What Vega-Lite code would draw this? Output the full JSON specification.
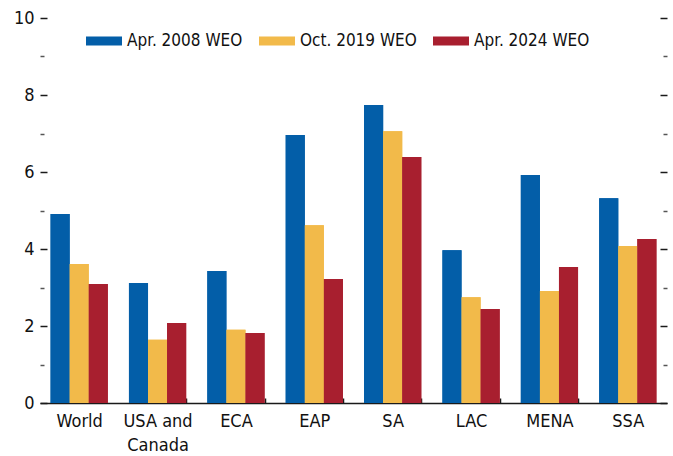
{
  "$schema": "https://vega.github.io/schema/vega-lite/v6.json",
  "width": 627,
  "height": 385,
  "autosize": {"type": "none"},
  "padding": {"left": 40, "top": 18, "right": 6, "bottom": 53},
  "config": {
    "view": {"stroke": null},
    "font": "DejaVu Sans Condensed, Liberation Sans, sans-serif",
    "axis": {"grid": false, "labelFont": "DejaVu Sans Condensed, Liberation Sans, sans-serif", "labelColor": "#111111", "labelFontSize": 18}
  },
  "data": {
    "values": [
      {"region": "World", "vintage": "Apr. 2008 WEO", "value": 4.91},
      {"region": "World", "vintage": "Oct. 2019 WEO", "value": 3.61},
      {"region": "World", "vintage": "Apr. 2024 WEO", "value": 3.09},
      {"region": "USA and Canada", "vintage": "Apr. 2008 WEO", "value": 3.12},
      {"region": "USA and Canada", "vintage": "Oct. 2019 WEO", "value": 1.64},
      {"region": "USA and Canada", "vintage": "Apr. 2024 WEO", "value": 2.08},
      {"region": "ECA", "vintage": "Apr. 2008 WEO", "value": 3.43},
      {"region": "ECA", "vintage": "Oct. 2019 WEO", "value": 1.9},
      {"region": "ECA", "vintage": "Apr. 2024 WEO", "value": 1.82},
      {"region": "EAP", "vintage": "Apr. 2008 WEO", "value": 6.96},
      {"region": "EAP", "vintage": "Oct. 2019 WEO", "value": 4.62},
      {"region": "EAP", "vintage": "Apr. 2024 WEO", "value": 3.22},
      {"region": "SA", "vintage": "Apr. 2008 WEO", "value": 7.74},
      {"region": "SA", "vintage": "Oct. 2019 WEO", "value": 7.06},
      {"region": "SA", "vintage": "Apr. 2024 WEO", "value": 6.39},
      {"region": "LAC", "vintage": "Apr. 2008 WEO", "value": 3.97},
      {"region": "LAC", "vintage": "Oct. 2019 WEO", "value": 2.75},
      {"region": "LAC", "vintage": "Apr. 2024 WEO", "value": 2.44},
      {"region": "MENA", "vintage": "Apr. 2008 WEO", "value": 5.92},
      {"region": "MENA", "vintage": "Oct. 2019 WEO", "value": 2.91},
      {"region": "MENA", "vintage": "Apr. 2024 WEO", "value": 3.53},
      {"region": "SSA", "vintage": "Apr. 2008 WEO", "value": 5.32},
      {"region": "SSA", "vintage": "Oct. 2019 WEO", "value": 4.08},
      {"region": "SSA", "vintage": "Apr. 2024 WEO", "value": 4.26}
    ]
  },
  "encoding": {
    "x": {
      "field": "region",
      "type": "nominal",
      "sort": ["World", "USA and Canada", "ECA", "EAP", "SA", "LAC", "MENA", "SSA"],
      "scale": {"paddingInner": 0.27, "paddingOuter": 0.135},
      "axis": {
        "title": null,
        "labelAngle": 0,
        "tickBand": "extent",
        "tickSize": -5,
        "tickWidth": 1.5,
        "tickColor": "#1a1a1a",
        "tickOpacity": {"condition": {"test": "datum.index > 0.001 && datum.index < 0.999", "value": 1}, "value": 0},
        "domainColor": "#1a1a1a",
        "domainWidth": 1.5,
        "labelPadding": 14,
        "labelLineHeight": 24,
        "labelExpr": "datum.value == 'USA and Canada' ? ['USA and', 'Canada'] : datum.label"
      }
    },
    "xOffset": {
      "field": "vintage",
      "type": "nominal",
      "sort": ["Apr. 2008 WEO", "Oct. 2019 WEO", "Apr. 2024 WEO"],
      "scale": {"paddingInner": 0, "paddingOuter": 0}
    },
    "color": {
      "field": "vintage",
      "type": "nominal",
      "sort": ["Apr. 2008 WEO", "Oct. 2019 WEO", "Apr. 2024 WEO"],
      "scale": {
        "domain": ["Apr. 2008 WEO", "Oct. 2019 WEO", "Apr. 2024 WEO"],
        "range": ["#035EA8", "#F2BA4A", "#A81F2F"]
      },
      "legend": {
        "title": null,
        "orient": "none",
        "direction": "horizontal",
        "legendX": 46,
        "legendY": 5,
        "padding": 0,
        "symbolType": "M-1,-0.25L1,-0.25L1,0.25L-1,0.25Z",
        "symbolSize": 1296,
        "symbolStrokeWidth": 0,
        "symbolOpacity": 1,
        "labelFont": "DejaVu Sans Condensed, Liberation Sans, sans-serif",
        "labelFontSize": 17,
        "labelColor": "#111111",
        "labelOffset": 5,
        "columnPadding": 16
      }
    }
  },
  "layer": [
    {
      "mark": {"type": "bar"},
      "encoding": {
        "y": {
          "field": "value",
          "type": "quantitative",
          "scale": {"domain": [0, 10], "nice": false},
          "axis": {
            "title": null,
            "orient": "left",
            "values": [0, 1, 2, 3, 4, 5, 6, 7, 8, 9, 10],
            "domain": false,
            "tickSize": {"condition": {"test": "datum.value % 2 === 0", "value": -7}, "value": -4},
            "tickColor": {"condition": {"test": "datum.value % 2 === 0", "value": "#1a1a1a"}, "value": "#555555"},
            "tickWidth": 1.5,
            "labelPadding": 13,
            "labelExpr": "datum.value % 2 === 0 ? datum.label : ''"
          }
        }
      }
    },
    {
      "mark": {"type": "bar"},
      "encoding": {
        "y": {
          "field": "value",
          "type": "quantitative",
          "scale": {"domain": [0, 10], "nice": false},
          "axis": {
            "title": null,
            "orient": "right",
            "values": [0, 1, 2, 3, 4, 5, 6, 7, 8, 9, 10],
            "domain": false,
            "labels": false,
            "tickSize": {"condition": {"test": "datum.value % 2 === 0", "value": -7}, "value": -4},
            "tickColor": {"condition": {"test": "datum.value % 2 === 0", "value": "#1a1a1a"}, "value": "#555555"},
            "tickWidth": 1.5
          }
        }
      }
    }
  ],
  "resolve": {"axis": {"y": "independent"}}
}
